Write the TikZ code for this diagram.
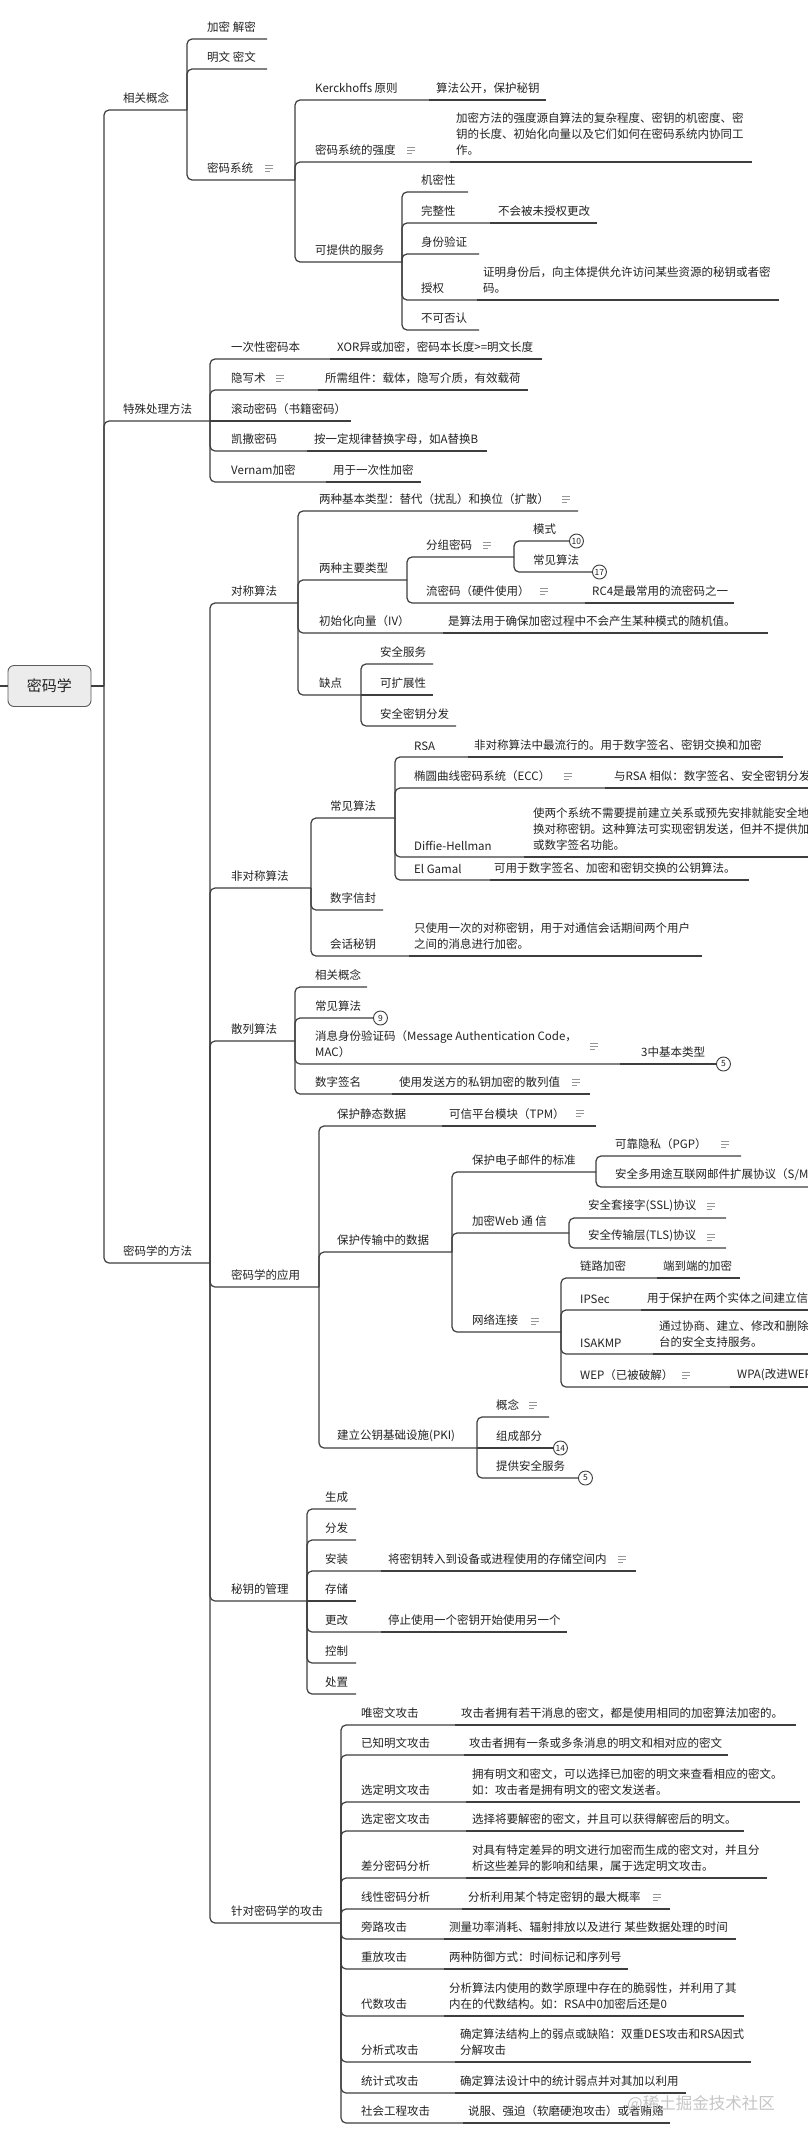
\documentclass[tikz,border=0pt]{standalone}
\usepackage{fontspec}
\setmainfont{Noto Sans CJK SC}
\definecolor{ln}{RGB}{62,62,62}
\definecolor{tx}{RGB}{35,35,35}
\definecolor{nt}{RGB}{150,150,150}
\tikzset{
  lbl/.style={anchor=south west, inner sep=0pt, align=left, text=tx, font=\fontsize{11.5}{16}\selectfont},
  edge/.style={draw=ln, line width=1.2pt, rounded corners=5pt},
  badge/.style={circle, draw=ln, fill=white, line width=0.9pt, minimum size=14pt, inner sep=0pt, text=tx, font=\fontsize{8.5}{9}\selectfont, anchor=west},
  rootbox/.style={draw=ln!85, fill=gray!15, rounded corners=6pt, minimum width=83pt, minimum height=41pt, line width=0.9pt, text=tx, font=\fontsize{15}{18}\selectfont},
  pics/notes/.style={code={\draw[nt, line width=0.9pt] (-4,-3) -- (4,-3) (-4,0) -- (4,0) (-4,3) -- (1,3);}}
}
% #1 name, #2 parent, #3 text x, #4 line y, #5 line end x, #6 text
\newcommand\tn[6]{%
  \coordinate (#1-r) at (#5,#4);
  \coordinate (#1-l) at (#2-r |- #1-r);
  \node[lbl] (#1) at (#3,#4-6) {#6};
  \draw[edge] (#2-r) -- (#1-l) -- (#1-r);
}
\newcommand\tc[6]{%
  \coordinate (#1-r) at (#5,#4);
  \node[lbl] (#1) at (#3,#4-6) {#6};
  \draw[edge] (#2-r) -- (#1-r);
}
\begin{document}
\begin{tikzpicture}[x=1pt,y=-1pt]
\useasboundingbox (0,0) rectangle (807,2139);
\fill[white] (0,0) rectangle (807,2139);

\node[rootbox] (root) at (49.5,686) {密码学};
\coordinate (root-in) at (0,686);
\coordinate (root-r) at (104,686);
\draw[edge] (root-in) -- (root.west);
\draw[edge] (root.east) -- (root-r);

% 相关概念
\tn{gn}{root}{123}{110}{187}{相关概念}
\tn{jm}{gn}{207}{39}{267}{加密 解密}
\tn{mw}{gn}{207}{69}{267}{明文 密文}
\tn{xt}{gn}{207}{180}{295}{密码系统}
\pic at (269,168) {notes};
\tn{kk}{xt}{315}{100}{429}{Kerckhoffs 原则}
\tc{kka}{kk}{436}{100}{546}{算法公开，保护秘钥}
\tn{qd}{xt}{315}{162}{450}{密码系统的强度}
\pic at (411,150) {notes};
\tc{qda}{qd}{456}{162}{752}{加密方法的强度源自算法的复杂程度、密钥的机密度、密\\钥的长度、初始化向量以及它们如何在密码系统内协同工\\作。}
\tn{fw}{xt}{315}{262}{402}{可提供的服务}
\tn{jx}{fw}{421}{192}{468}{机密性}
\tn{wz}{fw}{421}{223}{490}{完整性}
\tc{wza}{wz}{498}{223}{597}{不会被未授权更改}
\tn{sf}{fw}{421}{254}{479}{身份验证}
\tn{sq}{fw}{421}{300}{477}{授权}
\tc{sqa}{sq}{483}{300}{779}{证明身份后，向主体提供允许访问某些资源的秘钥或者密\\码。}
\tn{bk}{fw}{421}{330}{479}{不可否认}

% 特殊处理方法
\tn{ts}{root}{123}{421}{210}{特殊处理方法}
\tn{yc}{ts}{231}{359}{330}{一次性密码本}
\tc{yca}{yc}{337}{359}{542}{XOR异或加密，密码本长度>=明文长度}
\tn{yx}{ts}{231}{390}{318}{隐写术}
\pic at (280,378) {notes};
\tc{yxa}{yx}{325}{390}{528}{所需组件：载体，隐写介质，有效载荷}
\tc{gd}{ts}{231}{421}{351}{滚动密码（书籍密码）}
\tn{ks}{ts}{231}{451}{307}{凯撒密码}
\tc{ksa}{ks}{314}{451}{487}{按一定规律替换字母，如A替换B}
\tn{vn}{ts}{231}{482}{326}{Vernam加密}
\tc{vna}{vn}{333}{482}{421}{用于一次性加密}

% 密码学的方法
\tn{ff}{root}{123}{1263}{210}{密码学的方法}
\tn{dc}{ff}{231}{603}{298}{对称算法}
\tn{jb}{dc}{319}{511}{578}{两种基本类型：替代（扰乱）和换位（扩散）}
\pic at (566,499) {notes};
\tn{zy}{dc}{319}{580}{407}{两种主要类型}
\tn{fz}{zy}{426}{557}{514}{分组密码}
\pic at (487,545) {notes};
\tn{ms}{fz}{533}{541}{569}{模式}
\node[badge] (bA) at (ms-r) {10};
\tn{cj}{fz}{533}{572}{592}{常见算法}
\node[badge] (bB) at (cj-r) {17};
\tn{lm}{zy}{426}{603}{585}{流密码（硬件使用）}
\pic at (544,591) {notes};
\tc{lma}{lm}{592}{603}{734}{RC4是最常用的流密码之一}
\tn{iv}{dc}{319}{633}{443}{初始化向量（IV）}
\tc{iva}{iv}{448}{633}{768}{是算法用于确保加密过程中不会产生某种模式的随机值。}
\tn{qdn}{dc}{319}{695}{361}{缺点}
\tn{aq}{qdn}{380}{664}{433}{安全服务}
\tc{kz}{qdn}{380}{695}{433}{可扩展性}
\tn{aqf}{qdn}{380}{726}{456}{安全密钥分发}

\tn{fd}{ff}{231}{888}{311}{非对称算法}
\tn{cs1}{fd}{330}{818}{395}{常见算法}
\tn{rsa}{cs1}{414}{757}{468}{RSA}
\tc{rsaa}{rsa}{474}{757}{783}{非对称算法中最流行的。用于数字签名、密钥交换和加密}
\tn{ecc}{cs1}{414}{788}{605}{椭圆曲线密码系统（ECC）}
\pic at (568,776) {notes};
\tc{ecca}{ecc}{614}{788}{830}{与RSA 相似：数字签名、安全密钥分发}
\tn{dh}{cs1}{414}{857}{524}{Diffie-Hellman}
\tc{dha}{dh}{533}{857}{830}{使两个系统不需要提前建立关系或预先安排就能安全地交\\换对称密钥。这种算法可实现密钥发送，但并不提供加密\\或数字签名功能。}
\tn{eg}{cs1}{414}{880}{490}{El Gamal}
\tc{ega}{eg}{494}{880}{749}{可用于数字签名、加密和密钥交换的公钥算法。}
\tn{szx}{fd}{330}{910}{383}{数字信封}
\tn{hh}{fd}{330}{956}{409}{会话秘钥}
\tc{hha}{hh}{414}{956}{702}{只使用一次的对称密钥，用于对通信会话期间两个用户\\之间的消息进行加密。}

\tn{sl}{ff}{231}{1041}{295}{散列算法}
\tn{xg}{sl}{315}{987}{367}{相关概念}
\tn{cs2}{sl}{315}{1018}{373}{常见算法}
\node[badge] (bC) at (cs2-r) {9};
\tn{mac}{sl}{315}{1064}{620}{消息身份验证码（Message Authentication Code，\\MAC）}
\pic at (594,1046) {notes};
\tc{maca}{mac}{641}{1064}{716}{3中基本类型}
\node[badge] (bD) at (maca-r) {5};
\tn{qm}{sl}{315}{1094}{392}{数字签名}
\tc{qma}{qm}{399}{1094}{590}{使用发送方的私钥加密的散列值}
\pic at (576,1082) {notes};

\tn{yy}{ff}{231}{1287}{319}{密码学的应用}
\tn{jt}{yy}{337}{1126}{442}{保护静态数据}
\tc{jta}{jt}{449}{1126}{596}{可信平台模块（TPM）}
\pic at (580,1113) {notes};
\tn{cs}{yy}{337}{1252}{452}{保护传输中的数据}
\tn{yj}{cs}{472}{1172}{596}{保护电子邮件的标准}
\tn{pgp}{yj}{615}{1156}{741}{可靠隐私（PGP）}
\pic at (725,1144) {notes};
\tn{smm}{yj}{615}{1187}{830}{安全多用途互联网邮件扩展协议（S/MIME）}
\tn{web}{cs}{472}{1233}{569}{加密Web 通 信}
\tn{ssl}{web}{588}{1218}{726}{安全套接字(SSL)协议}
\pic at (711,1206) {notes};
\tn{tls}{web}{588}{1248}{726}{安全传输层(TLS)协议}
\pic at (711,1237) {notes};
\tn{wl}{cs}{472}{1332}{561}{网络连接}
\pic at (535,1321) {notes};
\tn{ll}{wl}{580}{1278}{657}{链路加密}
\tc{lla}{ll}{663}{1278}{740}{端到端的加密}
\tn{ips}{wl}{580}{1310}{641}{IPSec}
\tc{ipsa}{ips}{647}{1310}{830}{用于保护在两个实体之间建立信}
\tn{isa}{wl}{580}{1354}{653}{ISAKMP}
\tc{isaa}{isa}{659}{1354}{830}{通过协商、建立、修改和删除\\台的安全支持服务。}
\tn{wep}{wl}{580}{1387}{730}{WEP（已被破解）}
\pic at (686,1375) {notes};
\tc{wepa}{wep}{737}{1387}{830}{WPA(改进WEP)}
\tn{pki}{yy}{337}{1448}{477}{建立公钥基础设施(PKI)}
\tn{gn2}{pki}{496}{1417}{549}{概念}
\pic at (533,1405) {notes};
\tc{zc}{pki}{496}{1448}{553}{组成部分}
\node[badge] (bE) at (zc-r) {14};
\tn{tg}{pki}{496}{1478}{578}{提供安全服务}
\node[badge] (bF) at (tg-r) {5};

\tn{gl}{ff}{231}{1601}{307}{秘钥的管理}
\tn{sc}{gl}{325}{1509}{356}{生成}
\tn{fa}{gl}{325}{1540}{356}{分发}
\tn{az}{gl}{325}{1571}{381}{安装}
\tc{aza}{az}{388}{1571}{636}{将密钥转入到设备或进程使用的存储空间内}
\pic at (622,1559) {notes};
\tc{cc}{gl}{325}{1601}{356}{存储}
\tn{gg}{gl}{325}{1632}{381}{更改}
\tc{gga}{gg}{388}{1632}{567}{停止使用一个密钥开始使用另一个}
\tn{kzz}{gl}{325}{1663}{356}{控制}
\tn{cz}{gl}{325}{1694}{356}{处置}

\tn{gj}{ff}{231}{1923}{341}{针对密码学的攻击}
\tn{a1}{gj}{361}{1725}{455}{唯密文攻击}
\tc{a1a}{a1}{461}{1725}{796}{攻击者拥有若干消息的密文，都是使用相同的加密算法加密的。}
\tn{a2}{gj}{361}{1755}{464}{已知明文攻击}
\tc{a2a}{a2}{469}{1755}{728}{攻击者拥有一条或多条消息的明文和相对应的密文}
\tn{a3}{gj}{361}{1802}{466}{选定明文攻击}
\tc{a3a}{a3}{472}{1802}{800}{拥有明文和密文，可以选择已加密的明文来查看相应的密文。\\如：攻击者是拥有明文的密文发送者。}
\tn{a4}{gj}{361}{1831}{466}{选定密文攻击}
\tc{a4a}{a4}{472}{1831}{744}{选择将要解密的密文，并且可以获得解密后的明文。}
\tn{a5}{gj}{361}{1878}{466}{差分密码分析}
\tc{a5a}{a5}{472}{1878}{767}{对具有特定差异的明文进行加密而生成的密文对，并且分\\析这些差异的影响和结果，属于选定明文攻击。}
\tn{a6}{gj}{361}{1909}{462}{线性密码分析}
\tc{a6a}{a6}{468}{1909}{670}{分析利用某个特定密钥的最大概率}
\pic at (657,1897) {notes};
\tn{a7}{gj}{361}{1939}{444}{旁路攻击}
\tc{a7a}{a7}{449}{1939}{736}{测量功率消耗、辐射排放以及进行 某些数据处理的时间}
\tn{a8}{gj}{361}{1969}{444}{重放攻击}
\tc{a8a}{a8}{449}{1969}{628}{两种防御方式：时间标记和序列号}
\tn{a9}{gj}{361}{2016}{444}{代数攻击}
\tc{a9a}{a9}{449}{2016}{744}{分析算法内使用的数学原理中存在的脆弱性，并利用了其\\内在的代数结构。如：RSA中0加密后还是0}
\tn{a10}{gj}{361}{2062}{455}{分析式攻击}
\tc{a10a}{a10}{460}{2062}{751}{确定算法结构上的弱点或缺陷：双重DES攻击和RSA因式\\分解攻击}
\tn{a11}{gj}{361}{2093}{455}{统计式攻击}
\tc{a11a}{a11}{460}{2093}{686}{确定算法设计中的统计弱点并对其加以利用}
\tn{a12}{gj}{361}{2123}{463}{社会工程攻击}
\tc{a12a}{a12}{468}{2123}{670}{说服、强迫（软磨硬泡攻击）或者贿赂}

\node[anchor=west, inner sep=0pt, text=gray!45, font=\fontsize{16.5}{18}\selectfont] (wm) at (627,2104) {@稀土掘金技术社区};
\end{tikzpicture}
\end{document}
